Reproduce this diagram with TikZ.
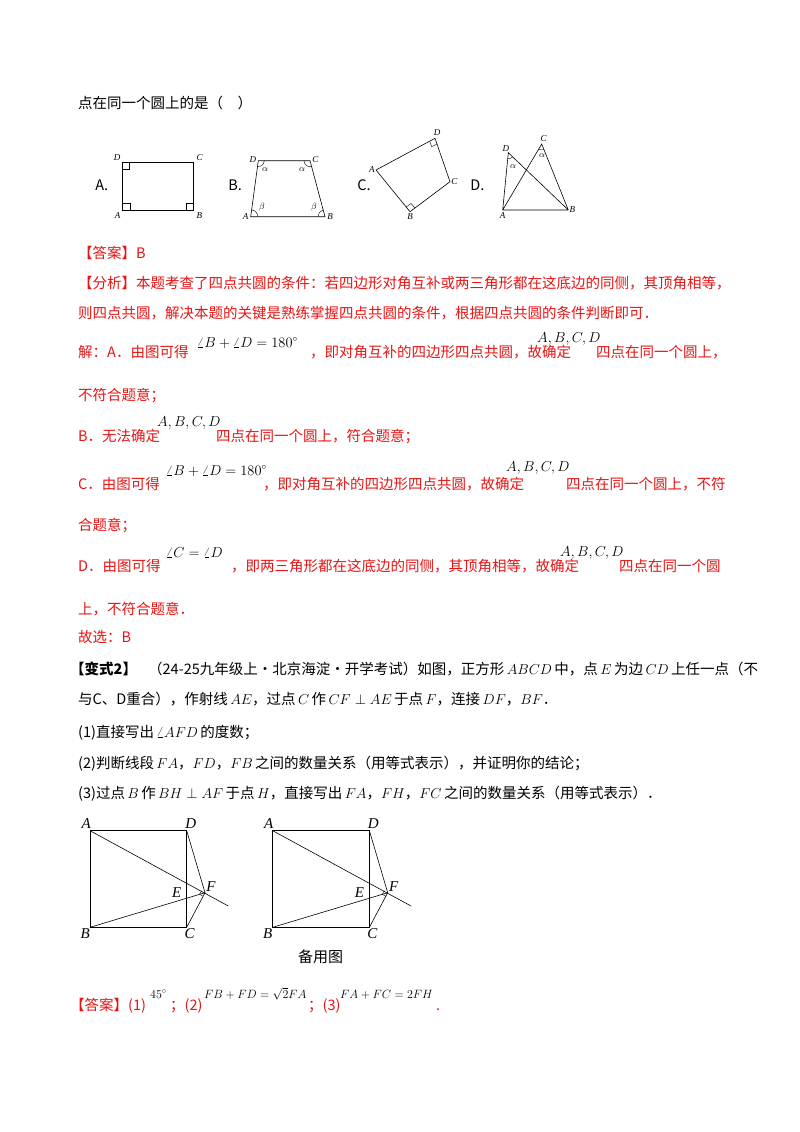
\documentclass[tikz,border=0pt]{standalone}
\usepackage{fontspec}
\setmainfont{Noto Sans CJK SC}
\newfontfamily\tms{Liberation Serif}
\usetikzlibrary{calc}
\definecolor{ansred}{RGB}{232,20,20}
\tikzset{
  tx/.style={anchor=base west,inner sep=0pt,font=\fontsize{14.5}{16}\selectfont},
  rd/.style={tx,text=ansred},
  lb/.style={inner sep=1pt,font=\tms\itshape\fontsize{9}{10}\selectfont},
  LB/.style={inner sep=1pt,font=\tms\itshape\fontsize{15}{16}\selectfont},
  fig/.style={line width=0.6pt},
}
\newcommand{\ra}[3]{\draw[line width=0.4pt] ($(#1)!6pt!(#2)$) -- ($($(#1)!6pt!(#2)$)+($(#1)!6pt!(#3)$)-(#1)$) -- ($(#1)!6pt!(#3)$);}
\newcommand{\mm}[1]{{\fontsize{13.5}{14}\selectfont$#1$}}
\newcommand{\ms}[1]{{\fontsize{11.5}{12}\selectfont$#1$}}
\begin{document}
\begin{tikzpicture}[x=1pt,y=-1pt]
\useasboundingbox (0,0) rectangle (800,1132);
\fill[white] (0,0) rectangle (800,1132);
\node[tx] (t0) at (78,108) {点在同一个圆上的是（　）};
\begin{scope}[fig]
% fig A
\coordinate (aA) at (122.7,210); \coordinate (aB) at (193.3,210);
\coordinate (aC) at (193.3,162.7); \coordinate (aD) at (122.7,162.7);
\draw (aA)--(aB)--(aC)--(aD)--cycle;
\draw[line width=0.4pt] ($(aD)+(0,6)$)--($(aD)+(6,6)$)--($(aD)+(6,0)$);
\draw[line width=0.4pt] ($(aA)+(0,-7)$)--($(aA)+(7,-7)$)--($(aA)+(7,0)$);
\draw[line width=0.4pt] ($(aB)+(0,-7)$)--($(aB)+(-7,-7)$)--($(aB)+(-7,0)$);
\node[tx] (la) at (95,190) {A.};
\node[lb,anchor=east] (lA) at ($(aA)+(-1,6)$) {A};
\node[lb,anchor=west] (lB) at ($(aB)+(2,6)$) {B};
\node[lb,anchor=east] (lC0) at ($(aD)+(-1,-5)$) {D};
\node[lb,anchor=west] (lD0) at ($(aC)+(2,-5)$) {C};
% fig B
\coordinate (bA) at (250.7,216.7); \coordinate (bB) at (325,216.7);
\coordinate (bC) at (310,160.7); \coordinate (bD) at (258.3,160.7);
\draw (bA)--(bB)--(bC)--(bD)--cycle;
\draw[line width=0.4pt] ($(bD)+(6,0)$) arc[start angle=0,end angle=98,radius=6];
\draw[line width=0.4pt] ($(bC)+(-6,0)$) arc[start angle=180,end angle=75,radius=6];
\draw[line width=0.4pt] ($(bA)+(7,0)$) arc[start angle=0,end angle=-82,radius=7];
\draw[line width=0.4pt] ($(bB)+(-7,0)$) arc[start angle=180,end angle=255,radius=7];
\node[lb] (al1) at (265,170) {$\alpha$};
\node[lb] (al2) at (302,170) {$\alpha$};
\node[lb] (be1) at (262,207) {$\beta$};
\node[lb] (be2) at (314,207) {$\beta$};
\node[tx] (lbb) at (228,190) {B.};
\node[lb,anchor=east] (bl1) at ($(bA)+(-1,0)$) {A};
\node[lb,anchor=west] (bl2) at ($(bB)+(1,0)$) {B};
\node[lb,anchor=east] (bl3) at ($(bD)+(-1,-1)$) {D};
\node[lb,anchor=west] (bl4) at ($(bC)+(1,-1)$) {C};
% fig C
\coordinate (cA) at (376,170); \coordinate (cD) at (435,138.3);
\coordinate (cC) at (450,181.7); \coordinate (cB) at (410,211.7);
\draw (cA)--(cD)--(cC)--(cB)--cycle;
\ra{cD}{cA}{cC}
\ra{cB}{cA}{cC}
\node[tx] (lcc) at (357,190) {C.};
\node[lb,anchor=east] (cl1) at (cA) {A};
\node[lb,anchor=south] (cl2) at ($(cD)+(2,-1)$) {D};
\node[lb,anchor=west] (cl3) at (cC) {C};
\node[lb,anchor=north] (cl4) at ($(cB)+(0,1)$) {B};
% fig D
\coordinate (dA) at (502.7,210); \coordinate (dB) at (568.3,210);
\coordinate (dD) at (508.3,152.7); \coordinate (dC) at (541.7,144);
\draw (dA)--(dB) (dA)--(dD)--(dB) (dA)--(dC)--(dB);
\draw[line width=0.4pt] ($(dD)!6pt!(dA)$) arc[start angle=95.6,end angle=43.7,radius=6];
\draw[line width=0.4pt] ($(dC)!6pt!(dA)$) arc[start angle=120.6,end angle=68,radius=6];
\node[lb] (al3) at (513,167) {$\alpha$};
\node[lb] (al4) at (542,156) {$\alpha$};
\node[tx] (ldd) at (470,190) {D.};
\node[lb,anchor=north] (dl1) at ($(dA)+(0,1)$) {A};
\node[lb,anchor=west] (dl2) at (dB) {B};
\node[lb,anchor=south east] (dl3) at ($(dD)+(2,0)$) {D};
\node[lb,anchor=south] (dl4) at ($(dC)+(2,-1)$) {C};
\end{scope}
% answer text
\node[rd] (r1) at (78,258) {【答案】B};
\node[rd] (r2) at (78,288) {【分析】本题考查了四点共圆的条件：若四边形对角互补或两三角形都在这底边的同侧，其顶角相等，};
\node[rd] (r3) at (78,318) {则四点共圆，解决本题的关键是熟练掌握四点共圆的条件，根据四点共圆的条件判断即可．};
\node[rd] (r4) at (78,357) {解：A．由图可得};
\node[tx] (m1) at (197,347) {\mm{\angle B+\angle D=180^\circ}};
\node[rd] (r4b) at (310,357) {，即对角互补的四边形四点共圆，故确定};
\node[tx] (m2) at (537,342) {\mm{A,B,C,D}};
\node[rd] (r4c) at (596,357) {四点在同一个圆上，};
\node[rd] (r5) at (78,400) {不符合题意；};
\node[rd] (r6) at (78,441) {B．无法确定};
\node[tx] (m3) at (157,426) {\mm{A,B,C,D}};
\node[rd] (r6b) at (216,441) {四点在同一个圆上，符合题意；};
\node[rd] (r7) at (78,489) {C．由图可得};
\node[tx] (m4) at (166,475) {\mm{\angle B+\angle D=180^\circ}};
\node[rd] (r7b) at (263,489) {，即对角互补的四边形四点共圆，故确定};
\node[tx] (m5) at (506,471) {\mm{A,B,C,D}};
\node[rd] (r7c) at (566,489) {四点在同一个圆上，不符};
\node[rd] (r8) at (78,530) {合题意；};
\node[rd] (r9) at (78,571) {D．由图可得};
\node[tx] (m6) at (166,557) {\mm{\angle C=\angle D}};
\node[rd] (r9b) at (231,571) {，即两三角形都在这底边的同侧，其顶角相等，故确定};
\node[tx] (m7) at (560,556) {\mm{A,B,C,D}};
\node[rd] (r9c) at (619,571) {四点在同一个圆};
\node[rd] (r10) at (78,614) {上，不符合题意．};
\node[rd] (r11) at (78,642) {故选：B};
% problem
\node[tx] (p1) at (70,674) {\bfseries【变式2】};
\node[tx] (p1b) at (148,674) {（24-25九年级上·北京海淀·开学考试）如图，正方形\,\mm{ABCD}\,中，点\,$E$\,为边\,$CD$\,上任一点（不};
\node[tx] (p2) at (78,704) {与C、D重合），作射线\,$AE$，过点\,$C$\,作\,\mm{CF\perp AE}\,于点\,$F$，连接\,$DF$，\mm{BF}．};
\node[tx] (p3) at (78,737) {(1)直接写出\,$\angle AFD$\,的度数；};
\node[tx] (p4) at (78,768) {(2)判断线段\,$FA$，$FD$，$FB$\,之间的数量关系（用等式表示），并证明你的结论；};
\node[tx] (p5) at (78,798) {(3)过点\,$B$\,作\,\mm{BH\perp AF}\,于点\,$H$，直接写出\,$FA$，$FH$，\mm{FC}\,之间的数量关系（用等式表示）．};
% bottom figures
\foreach \dx/\n in {0/p,182.7/q}{
\begin{scope}[fig,xshift=\dx]
\coordinate (\n A) at (90,830.7); \coordinate (\n D) at (186.7,830.7);
\coordinate (\n C) at (186.7,927.3); \coordinate (\n B) at (90,927.3);
\coordinate (\n F) at (205,892.7); \coordinate (\n R) at (228.3,906);
\draw (\n A)--(\n D)--(\n C)--(\n B)--cycle;
\draw (\n A)--(\n R);
\draw (\n D)--(\n F)--(\n C) (\n B)--(\n F);
\draw[line width=0.4pt] ($(\n F)!4pt!(\n A)$) -- ($($(\n F)!4pt!(\n A)$)+($(\n F)!4pt!(\n C)$)-(\n F)$) -- ($(\n F)!4pt!(\n C)$);
\node[LB,anchor=south east] (\n a) at ($(\n A)+(2,-1)$) {A};
\node[LB,anchor=south] (\n d) at ($(\n D)+(4,-1)$) {D};
\node[LB,anchor=north] (\n c) at ($(\n C)+(3,0)$) {C};
\node[LB,anchor=north east] (\n b) at ($(\n B)+(1,0)$) {B};
\node[LB] (\n e) at (176.7,892.7) {E};
\node[LB,anchor=west] (\n f) at ($(\n F)+(0,-6)$) {F};
\end{scope}}
\node[tx] (bk) at (298,962) {\fontsize{15}{16}\selectfont 备用图};
% final answer
\node[rd] (a1) at (70,1010) {【答案】(1)};
\node[tx] (a2) at (150,998) {\ms{45^\circ}};
\node[rd] (a3) at (170,1010) {；(2)};
\node[tx] (a4) at (204,998) {\ms{FB+FD=\sqrt{2}FA}};
\node[rd] (a5) at (308,1010) {；(3)};
\node[tx] (a6) at (340,998) {\ms{FA+FC=2FH}};
\node[rd] (a7) at (436,1010) {.};
\end{tikzpicture}
\end{document}
